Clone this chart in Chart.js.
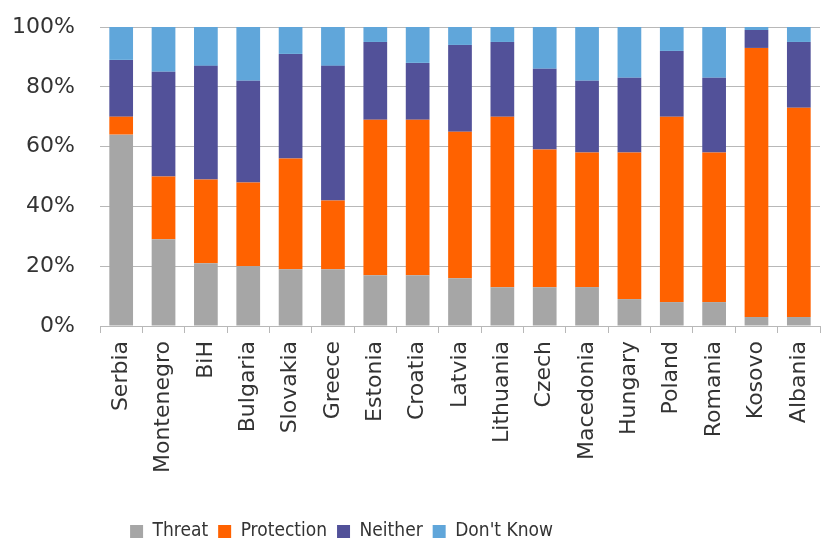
<!DOCTYPE html>
<html>
<head>
<meta charset="utf-8">
<script src="https://cdn.jsdelivr.net/npm/chart.js@4/dist/chart.umd.min.js"></script>
<style>
  html, body { margin: 0; padding: 0; background: #ffffff; }
  #wrap { width: 821px; height: 541px; }
</style>
</head>
<body>
<div id="wrap"><canvas id="chart" width="821" height="541"></canvas></div>
<script>
// Countries and survey shares (%) per answer
const countries = ['Serbia', 'Montenegro', 'BiH', 'Bulgaria', 'Slovakia', 'Greece', 'Estonia', 'Croatia',
  'Latvia', 'Lithuania', 'Czech', 'Macedonia', 'Hungary', 'Poland', 'Romania', 'Kosovo', 'Albania'];
const threat     = [64, 29, 21, 20, 19, 19, 17, 17, 16, 13, 13, 13,  9,  8,  8,  3,  3];
const protection = [ 6, 21, 28, 28, 37, 23, 52, 52, 49, 57, 46, 45, 49, 62, 50, 90, 70];
const neither    = [19, 35, 38, 34, 35, 45, 26, 19, 29, 25, 27, 24, 25, 22, 25,  6, 22];
const dontKnow   = [11, 15, 13, 18,  9, 13,  5, 12,  6,  5, 14, 18, 17,  8, 17,  1,  5];
const yTicks = [0, 20, 40, 60, 80, 100];

const seriesNames = ['Threat', 'Protection', 'Neither', "Don't Know"];
const seriesColors = ['#a6a6a6', '#ff6200', '#525199', '#60a6da'];
const seriesValues = [threat, protection, neither, dontKnow];

const textColor = '#333333';
const gridColor = '#b8b8b8';
const mainFont = 'DejaVu Sans, sans-serif';
const legendFont = '"Liberation Sans Narrow", "DejaVu Sans Condensed", sans-serif';

// Keep the legend centred under the left part of the chart, close to the bottom edge
const legendShift = {
  id: 'legendShift',
  afterLayout(chart) {
    const lg = chart.legend;
    if (lg) {
      lg.left = 0; lg.right = 683;
      lg.top += 10; lg.bottom += 10;
    }
  }
};

new Chart(document.getElementById('chart'), {
  type: 'bar',
  data: {
    labels: countries,
    datasets: seriesNames.map((name, i) => ({
      label: name,
      data: seriesValues[i],
      backgroundColor: seriesColors[i],
      borderWidth: 0,
      categoryPercentage: 1,
      barPercentage: 0.56
    }))
  },
  plugins: [legendShift],
  options: {
    responsive: false,
    animation: false,
    layout: { padding: { top: 27, right: 1, left: 0, bottom: 0 } },
    plugins: {
      tooltip: { enabled: false },
      legend: {
        position: 'bottom',
        labels: {
          color: textColor,
          font: { family: legendFont, size: 19 },
          boxWidth: 13,
          boxHeight: 13,
          padding: 10
        }
      }
    },
    scales: {
      x: {
        stacked: true,
        afterFit(scale) {
          scale.height = 176;
          scale.paddingLeft = 0;
          scale.paddingRight = 0;
        },
        grid: {
          display: true,
          drawOnChartArea: false,
          drawTicks: true,
          tickLength: 7,
          color: gridColor,
          offset: true
        },
        border: { display: true, color: gridColor, width: 1 },
        ticks: {
          color: textColor,
          font: { family: mainFont, size: 22 },
          minRotation: 90,
          maxRotation: 90,
          autoSkip: false,
          padding: 8
        }
      },
      y: {
        stacked: true,
        min: 0,
        max: 100,
        afterFit(scale) {
          scale.width = 100;
          scale.paddingTop = 0;
          scale.paddingBottom = 0;
        },
        afterBuildTicks(scale) { scale.ticks = yTicks.map(v => ({ value: v })); },
        grid: { color: gridColor, lineWidth: 1, drawTicks: false },
        border: { display: false },
        ticks: {
          color: textColor,
          font: { family: mainFont, size: 22 },
          padding: 25,
          callback: v => v + '%'
        }
      }
    }
  }
});
</script>
</body>
</html>
